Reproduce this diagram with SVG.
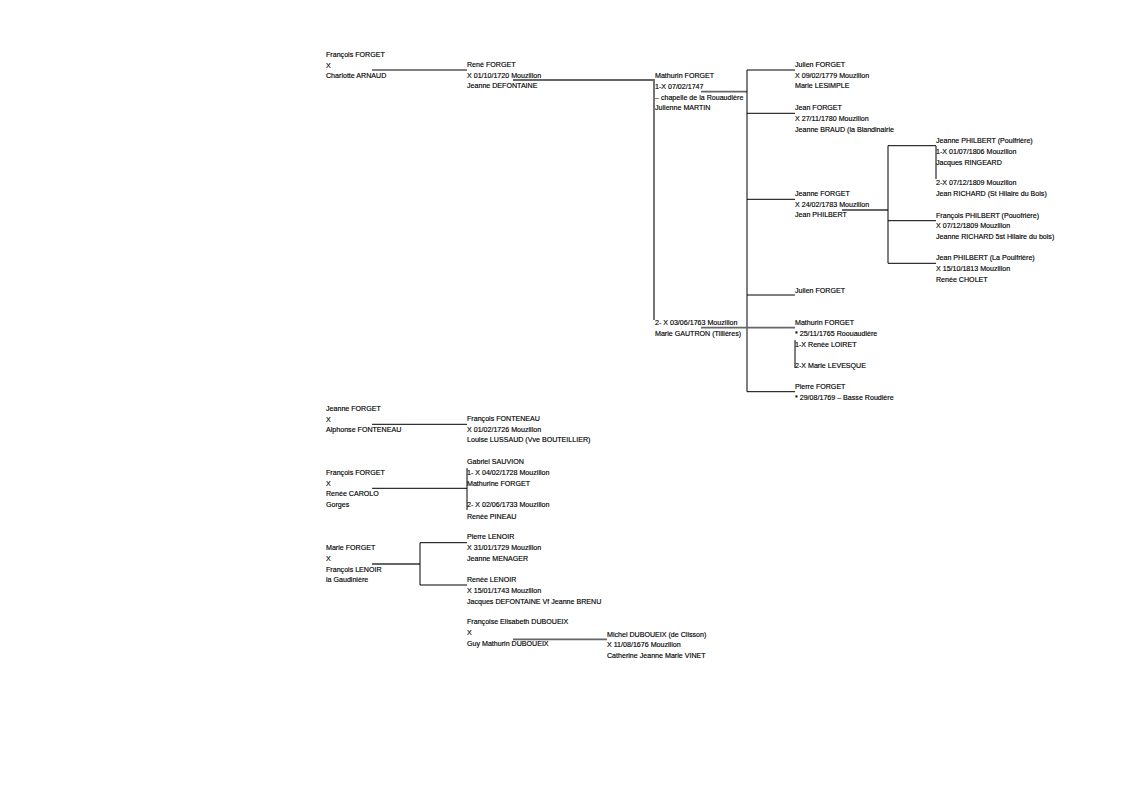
<svg xmlns="http://www.w3.org/2000/svg" width="1123" height="794" viewBox="0 0 1123 794">
<style>
text{font-family:"Liberation Sans",Arial,sans-serif;font-size:7.1px;fill:#000;stroke:#000;stroke-width:0.15}
.k{stroke:#000;stroke-width:1;fill:none}
.g{stroke:#666;stroke-width:1.8;fill:none}
</style>
<rect width="1123" height="794" fill="#fff"/>
<g id="connectors">
<path class="k" d="M372,70H467"/>
<path class="g" d="M513,80H654V320"/>
<path class="g" d="M701,91.7H747"/>
<path class="k" d="M747,70V391.7M747,70H795M747,113.3H795M747,199.3H795M747,295H795M747,391.7H795"/>
<path class="g" d="M701,327.7H795"/>
<path class="g" d="M842,210H888"/>
<path class="k" d="M888,145.7V263.3M888,145.7H936M888,220.7H936M888,263.3H936"/>
<path class="k" d="M936,146V179"/>
<path class="k" d="M795,340V368"/>
<path class="k" d="M372,424.3H467"/>
<path class="k" d="M372,488.3H467M467,468V510"/>
<path class="g" d="M372,564H420"/>
<path class="k" d="M420,542.7V585M420,542.7H467M420,585H467"/>
<path class="g" d="M513,639.3H607"/>
</g>
<g id="nA"><text x="326" y="56.8">François FORGET</text><text x="326" y="67.5">X</text><text x="326" y="78.2">Charlotte ARNAUD</text></g>
<g id="nB"><text x="467" y="66.8">René FORGET</text><text x="467" y="77.5">X 01/10/1720 Mouzillon</text><text x="467" y="88.2">Jeanne DEFONTAINE</text></g>
<g id="nC"><text x="655" y="78.2">Mathurin FORGET</text><text x="655" y="88.9">1-X 07/02/1747</text><text x="655" y="99.6">– chapelle de la Rouaudière</text><text x="655" y="110.3">Julienne MARTIN</text></g>
<g id="nD"><text x="795" y="66.8">Julien FORGET</text><text x="795" y="77.5">X 09/02/1779 Mouzillon</text><text x="795" y="88.2">Marie LESIMPLE</text></g>
<g id="nE"><text x="795" y="110.2">Jean FORGET</text><text x="795" y="120.9">X 27/11/1780 Mouzillon</text><text x="795" y="131.6">Jeanne BRAUD (la Blandinairie</text></g>
<g id="nF"><text x="795" y="195.8">Jeanne FORGET</text><text x="795" y="206.5">X 24/02/1783 Mouzillon</text><text x="795" y="217.2">Jean PHILBERT</text></g>
<g id="nG"><text x="936" y="143.2">Jeanne PHILBERT (Poulfrière)</text><text x="936" y="153.9">1-X 01/07/1806 Mouzillon</text><text x="936" y="164.6">Jacques RINGEARD</text><text x="936" y="185.2">2-X 07/12/1809 Mouzillon</text><text x="936" y="195.9">Jean RICHARD (St Hilaire du Bois)</text></g>
<g id="nH"><text x="936" y="217.5">François PHILBERT (Pouofrière)</text><text x="936" y="228.2">X 07/12/1809 Mouzillon</text><text x="936" y="238.9">Jeanne RICHARD 5st Hilaire du bois)</text></g>
<g id="nI"><text x="936" y="260.2">Jean PHILBERT (La Poulfrière)</text><text x="936" y="270.9">X 15/10/1813 Mouzillon</text><text x="936" y="281.6">Renée CHOLET</text></g>
<g id="nJ"><text x="795" y="292.5">Julien FORGET</text></g>
<g id="nK"><text x="655" y="325.2">2- X 03/06/1763 Mouzillon</text><text x="655" y="335.9">Marie GAUTRON (Tillières)</text></g>
<g id="nL"><text x="795" y="325.2">Mathurin FORGET</text><text x="795" y="335.9">* 25/11/1765 Roouaudière</text><text x="795" y="346.6">1-X Renée LOIRET</text><text x="795" y="367.6">2-X Marie LEVESQUE</text></g>
<g id="nM"><text x="795" y="389.2">Pierre FORGET</text><text x="795" y="399.9">* 29/08/1769 – Basse Roudière</text></g>
<g id="nN"><text x="326" y="410.8">Jeanne FORGET</text><text x="326" y="421.5">X</text><text x="326" y="432.2">Alphonse FONTENEAU</text></g>
<g id="nO"><text x="467" y="420.8">François FONTENEAU</text><text x="467" y="431.5">X 01/02/1726 Mouzillon</text><text x="467" y="442.2">Louise LUSSAUD (Vve BOUTEILLIER)</text></g>
<g id="nP"><text x="467" y="464.2">Gabriel SAUVION</text><text x="467" y="474.9">1- X 04/02/1728 Mouzillon</text><text x="467" y="485.6">Mathurine FORGET</text><text x="467" y="507.2">2- X 02/06/1733 Mouzillon</text><text x="467" y="518.5">Renée PINEAU</text></g>
<g id="nQ"><text x="326" y="474.8">François FORGET</text><text x="326" y="485.5">X</text><text x="326" y="496.2">Renée CAROLO</text><text x="326" y="506.9">Gorges</text></g>
<g id="nR"><text x="326" y="550.2">Marie FORGET</text><text x="326" y="560.9">X</text><text x="326" y="571.6">François LENOIR</text><text x="326" y="582.3">la Gaudinière</text></g>
<g id="nS"><text x="467" y="539.2">Pierre LENOIR</text><text x="467" y="549.9">X 31/01/1729 Mouzillon</text><text x="467" y="560.6">Jeanne MENAGER</text></g>
<g id="nT"><text x="467" y="582.2">Renée LENOIR</text><text x="467" y="592.9">X 15/01/1743 Mouzillon</text><text x="467" y="603.6">Jacques DEFONTAINE Vf Jeanne BRENU</text></g>
<g id="nU"><text x="467" y="624.2">Françoise Elisabeth DUBOUEIX</text><text x="467" y="635.2">X</text><text x="467" y="646.2">Guy Mathurin DUBOUEIX</text></g>
<g id="nV"><text x="607" y="636.5">Michel DUBOUEIX (de Clisson)</text><text x="607" y="647.2">X 11/08/1676 Mouzillon</text><text x="607" y="657.9">Catherine Jeanne Marie VINET</text></g>
</svg>
